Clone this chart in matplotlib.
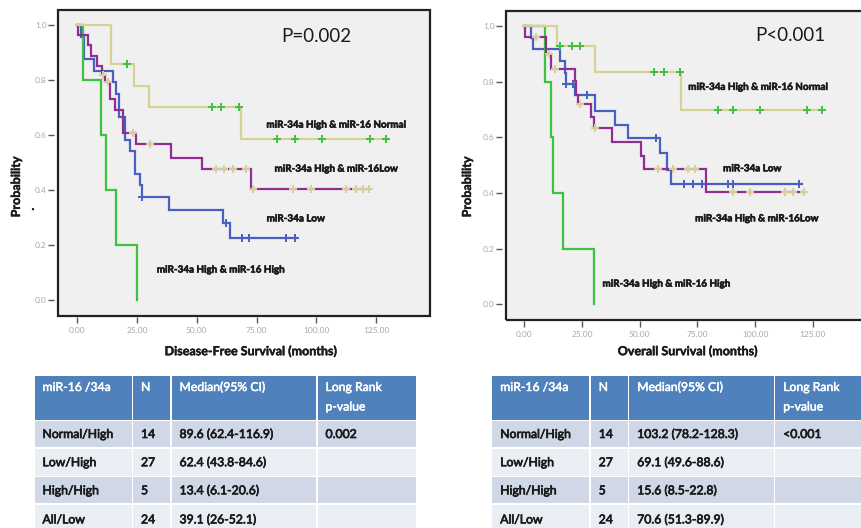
import matplotlib
matplotlib.use("Agg")
import matplotlib.pyplot as plt
import matplotlib.patheffects as pe
from matplotlib.patches import Rectangle
import numpy as np

W, H = 862, 528

TAN = "#D6D196"
PURPLE = "#922E92"
BLUE = "#4A5FBF"
GREEN = "#3FC13F"

# Disease-free survival: step times / survival after each step, censor times, last follow-up
dfs_tan_t = [0, 14.0, 23.6, 30.1, 68.5]
dfs_tan_s = [1.0, 0.857, 0.779, 0.701, 0.584]
dfs_tan_cens = [21.0, 56.3, 60.3, 67.8, 83.5, 90.9, 102.4, 122.3, 128.9]
dfs_tan_end = 129.6

dfs_purple_t = [0, 0.5, 4.6, 6.0, 8.1, 10.4, 11.6, 13.7, 15.7, 19.3, 24.8, 39.4, 52.4, 72.8]
dfs_purple_s = [1.0, 0.963, 0.926, 0.889, 0.852, 0.820, 0.794, 0.733, 0.693, 0.608, 0.566, 0.518, 0.475, 0.404]
dfs_purple_cens = [10.8, 12.9, 23.4, 30.4, 57.9, 61.5, 65.1, 70.7, 73.5, 90.2, 97.9, 112.5, 116.7, 119.4, 121.9]
dfs_purple_end = 122.3

dfs_blue_t = [0, 1.5, 2.9, 7.0, 14.8, 16.2, 17.4, 19.9, 22.0, 24.2, 26.2, 27.1, 38.6, 61.0, 64.0]
dfs_blue_s = [1.0, 0.958, 0.875, 0.833, 0.792, 0.750, 0.667, 0.583, 0.542, 0.458, 0.417, 0.375, 0.328, 0.281, 0.225]
dfs_blue_cens = [27.3, 62.4, 69.0, 72.0, 87.4, 90.9]
dfs_blue_end = 91.6

dfs_green_t = [0, 2.4, 9.8, 12.1, 16.3, 25.1]
dfs_green_s = [1.0, 0.8, 0.6, 0.4, 0.2, 0.0]
dfs_green_cens = []
dfs_green_end = 25.1

# Overall survival
os_tan_t = [0, 14.1, 30.4, 68.0]
os_tan_s = [1.0, 0.929, 0.836, 0.700]
os_tan_cens = [15.6, 20.6, 23.9, 56.3, 60.6, 67.5, 83.7, 90.6, 102.2, 122.4, 128.9]
os_tan_end = 129.6

os_purple_t = [0, 0.4, 9.4, 11.7, 21.8, 22.5, 23.3, 29.0, 30.0, 38.0, 50.5, 51.9, 78.8]
os_purple_s = [1.0, 0.963, 0.901, 0.845, 0.802, 0.754, 0.722, 0.674, 0.634, 0.583, 0.534, 0.486, 0.405]
os_purple_cens = [4.8, 10.5, 13.1, 23.9, 30.6, 58.1, 64.4, 70.7, 74.0, 90.3, 97.8, 113.0, 116.3, 121.2]
os_purple_end = 121.6

os_blue_t = [0, 2.9, 3.6, 15.6, 17.5, 17.8, 21.8, 30.7, 39.1, 44.9, 58.8, 61.8, 63.5]
os_blue_s = [1.0, 0.958, 0.917, 0.875, 0.833, 0.792, 0.751, 0.696, 0.646, 0.598, 0.544, 0.484, 0.432]
os_blue_cens = [17.9, 20.9, 27.1, 57.0, 69.0, 73.0, 77.0, 88.2, 90.6, 119.0]
os_blue_end = 120.2

os_green_t = [0, 8.8, 11.3, 12.4, 16.7, 30.0]
os_green_s = [1.0, 0.8, 0.6, 0.4, 0.2, 0.0]
os_green_cens = []
os_green_end = 30.0

x_ticks = [0, 25, 50, 75, 100, 125]
x_tick_labels = ["0.00", "25.00", "50.00", "75.00", "100.00", "125.00"]
y_ticks = [0.0, 0.2, 0.4, 0.6, 0.8, 1.0]
y_tick_labels = ["0.0", "0.2", "0.4", "0.6", "0.8", "1.0"]

curve_names = ["miR-34a High & miR-16 Normal", "miR-34a High & miR-16Low",
               "miR-34a Low", "miR-34a High & miR-16 High"]

table_header = ["miR-16 /34a", "N", "Median(95% CI)", "Long Rank\np-value"]
table_groups = ["Normal/High", "Low/High", "High/High", "All/Low"]
table_n = ["14", "27", "5", "24"]
dfs_medians = ["89.6 (62.4-116.9)", "62.4 (43.8-84.6)", "13.4 (6.1-20.6)", "39.1 (26-52.1)"]
dfs_pvals = ["0.002", "", "", ""]
os_medians = ["103.2 (78.2-128.3)", "69.1 (49.6-88.6)", "15.6 (8.5-22.8)", "70.6 (51.3-89.9)"]
os_pvals = ["<0.001", "", "", ""]

plt.rcParams["font.family"] = ["Lato", "DejaVu Sans"]

fig = plt.figure(figsize=(W / 100, H / 100), dpi=100)


def px_axes(left, top, right, bottom):
    return [left / W, 1 - bottom / H, (right - left) / W, (bottom - top) / H]


def fig_text(x, y, s, **kw):
    fig.text(x / W, 1 - y / H, s, **kw)


def heavy(color, lw=0.5):
    return [pe.withStroke(linewidth=lw, foreground=color)]


def km_curve(ax, t, s, cens, end, color, cens_color):
    tt = list(t) + [end]
    ss = list(s) + [s[-1]]
    ax.step(tt, ss, where="post", color=color, lw=1.6, solid_joinstyle="miter")
    if cens:
        idx = np.searchsorted(t, cens, side="right") - 1
        ax.plot(cens, np.asarray(s)[idx], ls="none", marker="+", ms=6,
                mew=1.4, color=cens_color)


def style_km_axes(ax):
    ax.set_facecolor("#F0F0F0")
    ax.set_xlim(-8, 147.5)
    ax.set_ylim(-0.057, 1.055)
    for side in ["top", "right", "left", "bottom"]:
        ax.spines[side].set_visible(False)
    ax.spines["left"].set_position(("outward", 3))
    ax.spines["bottom"].set_position(("outward", 1))
    ax.add_patch(Rectangle((0, 0), 1, 1, transform=ax.transAxes, fill=False,
                           lw=1.6, ec="#222222", clip_on=False, zorder=10))
    ax.set_xticks(x_ticks)
    ax.set_xticklabels(x_tick_labels)
    ax.set_yticks(y_ticks)
    ax.set_yticklabels(y_tick_labels)
    ax.tick_params(axis="both", length=4, width=1, color="#555555",
                   labelcolor="#A8A8A8", labelsize=6)
    ax.tick_params(axis="y", pad=1)
    ax.tick_params(axis="x", pad=3)


def draw_km(ax, blue, green, purple, tan):
    km_curve(ax, *blue, BLUE, BLUE)
    km_curve(ax, *green, GREEN, GREEN)
    km_curve(ax, *purple, PURPLE, TAN)
    km_curve(ax, *tan, TAN, GREEN)


label_kw = dict(fontsize=7.1, fontweight="bold", color="#1A1A1A", va="center", ha="left",
                path_effects=heavy("#1A1A1A", 0.4))

# left: disease-free survival
ax1 = fig.add_axes(px_axes(58, 10, 430, 315.7))
style_km_axes(ax1)
draw_km(ax1,
        (dfs_blue_t, dfs_blue_s, dfs_blue_cens, dfs_blue_end),
        (dfs_green_t, dfs_green_s, dfs_green_cens, dfs_green_end),
        (dfs_purple_t, dfs_purple_s, dfs_purple_cens, dfs_purple_end),
        (dfs_tan_t, dfs_tan_s, dfs_tan_cens, dfs_tan_end))
ax1.text(85.5, 0.96, "P=0.002", fontsize=13.5, color="#1A1A1A", va="center", ha="left")
ax1.text(79.1, 0.636, curve_names[0], **label_kw)
ax1.text(82.5, 0.476, curve_names[1], **label_kw)
ax1.text(79.2, 0.295, curve_names[2], **label_kw)
ax1.text(33.3, 0.109, curve_names[3], **label_kw)

# right: overall survival
ax2 = fig.add_axes(px_axes(506, 11, 864.7, 320))
style_km_axes(ax2)
draw_km(ax2,
        (os_blue_t, os_blue_s, os_blue_cens, os_blue_end),
        (os_green_t, os_green_s, os_green_cens, os_green_end),
        (os_purple_t, os_purple_s, os_purple_cens, os_purple_end),
        (os_tan_t, os_tan_s, os_tan_cens, os_tan_end))
ax2.text(100.0, 0.967, "P<0.001", fontsize=13.5, color="#1A1A1A", va="center", ha="left")
ax2.text(71.0, 0.78, curve_names[0], **label_kw)
ax2.text(86.1, 0.487, curve_names[2], **label_kw)
ax2.text(74.0, 0.307, curve_names[1], **label_kw)
ax2.text(33.8, 0.072, curve_names[3], **label_kw)

axis_kw = dict(fontsize=9, fontweight="bold", color="#1A1A1A", ha="center", va="center",
               path_effects=heavy("#1A1A1A", 0.3))
fig_text(251, 351, "Disease-Free Survival (months)", **axis_kw)
fig_text(688, 351, "Overall Survival (months)", **axis_kw)
fig_text(16, 187, "Probability", rotation=90, **axis_kw)
fig_text(467, 187, "Probability", rotation=90, **axis_kw)
fig_text(33, 206, ".", **axis_kw)

# summary tables under each plot
overlay = fig.add_axes([0, 0, 1, 1])
overlay.set_xlim(0, W)
overlay.set_ylim(H, 0)
overlay.axis("off")

col_w = [98.5, 38.5, 146, 100]
row_edges = [(375.7, 419.5), (420.8, 447.2), (448.6, 475.8), (477.2, 503.4), (504.8, 534)]
row_fill = ["#4F81BD", "#D0D8E8", "#E9EDF4", "#D0D8E8", "#E9EDF4"]


def draw_table(x0, medians, pvals):
    xs = [x0]
    for w in col_w:
        xs.append(xs[-1] + w)
    body = [table_groups, table_n, medians, pvals]
    for r, (top, bot) in enumerate(row_edges):
        for c in range(4):
            overlay.add_patch(Rectangle((xs[c] + 0.7, top), col_w[c] - 1.4, bot - top,
                                        fc=row_fill[r], ec="none"))
            if r == 0:
                lines = table_header[c].split("\n")
                for k, line in enumerate(lines):
                    overlay.text(xs[c] + 8.5, 387.5 + 19.5 * k, line, fontsize=8.8,
                                 color="white", va="center", ha="left",
                                 path_effects=heavy("white", 0.35))
            else:
                overlay.text(xs[c] + 8.5, (top + bot) / 2 + 0.5, body[c][r - 1],
                             fontsize=8.8, color="#1A1A1A", va="center", ha="left",
                             path_effects=heavy("#1A1A1A", 0.5))


draw_table(34, dfs_medians, dfs_pvals)
draw_table(491.7, os_medians, os_pvals)

fig.savefig("out.png", dpi=100, facecolor="white")
